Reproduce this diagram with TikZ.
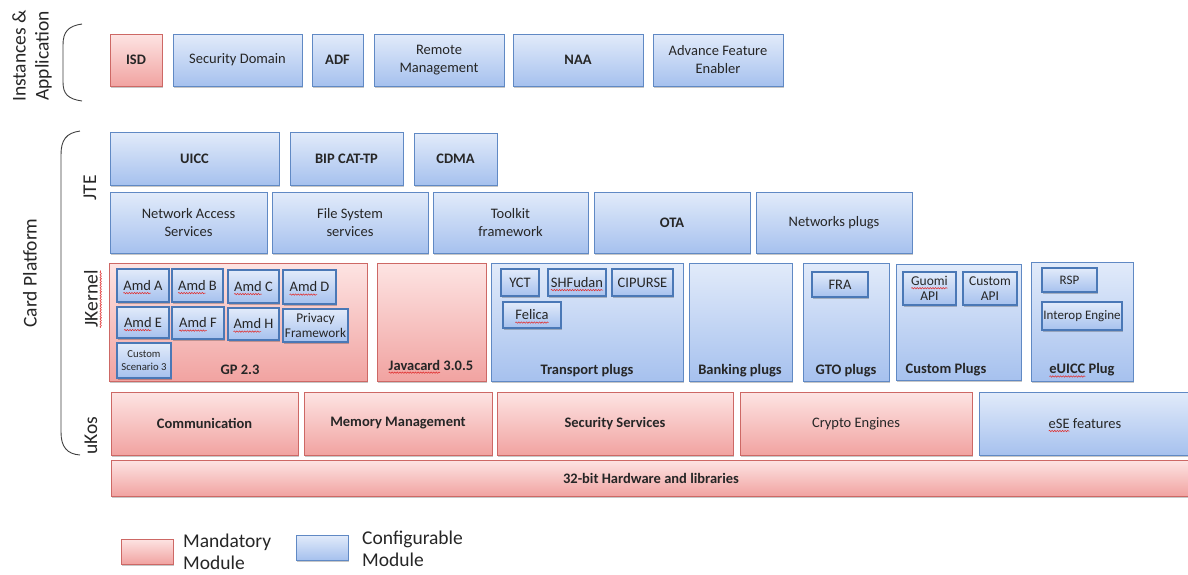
\documentclass[tikz,border=0pt]{standalone}
\usepackage{fontspec}
\setmainfont{Carlito}
\usetikzlibrary{shadows,decorations.pathmorphing}
\definecolor{redtop}{HTML}{FDE4E3}
\definecolor{redbot}{HTML}{F1A3A1}
\definecolor{redline}{HTML}{CD6865}
\definecolor{bluetop}{HTML}{E2EBFA}
\definecolor{bluebot}{HTML}{A6C1EE}
\definecolor{blueline}{HTML}{6089C4}
\definecolor{innerline}{HTML}{4A78B6}
\definecolor{txt}{HTML}{262626}
\definecolor{brk}{HTML}{404040}
\definecolor{squig}{HTML}{E03030}
\newcommand{\fr}{\fontsize{14.5}{18}\selectfont}
\newcommand{\fb}{\fontsize{14.5}{18}\selectfont\bfseries}
\newlength\wAmd \newlength\wA \newlength\wB \newlength\wC \newlength\wD
\newlength\wE \newlength\wF \newlength\wH
\newlength\wJav \newlength\wJavF \newlength\wEu \newlength\wEuF
\newlength\wShf \newlength\wFel \newlength\wEse \newlength\wEseF
\newcommand{\sqd}[3]{\draw[sqline] ([xshift=-0.5#2, yshift=-2.6pt]#1.base) -- ([xshift=-0.5#2+#3, yshift=-2.6pt]#1.base);}
\newcommand{\bx}[7]{\node[#6, minimum width={(#4-#2)*1pt}, minimum height={(#5-#3)*1pt}] (#1) at ({(#2+#4)/2},{(#3+#5)/2}) {#7};}
\tikzset{
  base/.style={draw, rectangle, inner sep=0pt, outer sep=0pt, line width=0.8pt, align=center, text=txt,
    font=\fr,
    drop shadow={shadow xshift=1.2pt, shadow yshift=-1.6pt, fill=black, opacity=0.22}},
  redbox/.style={base, draw=redline, top color=redtop, bottom color=redbot},
  bluebox/.style={base, draw=blueline, top color=bluetop, bottom color=bluebot},
  innerbox/.style={bluebox, draw=innerline, line width=1.5pt},
  bf/.style={font=\fb},
  lbl/.style={text=txt, inner sep=0pt, font=\fb},
  side/.style={text=txt, inner sep=0pt, rotate=90, font=\fontsize{19.5}{23}\selectfont},
  legtxt/.style={text=txt, inner sep=0pt, anchor=west, align=left, font=\fontsize{19.5}{22}\selectfont},
  bracket/.style={draw=brk, line width=0.9pt},
  sqline/.style={draw=squig, line width=0.55pt, decorate, decoration={snake, amplitude=0.7pt, segment length=2.6pt}}
}
\begin{document}
\settowidth{\wAmd}{\fr Amd}\settowidth{\wA}{\fr Amd A}\settowidth{\wB}{\fr Amd B}%
\settowidth{\wC}{\fr Amd C}\settowidth{\wD}{\fr Amd D}\settowidth{\wE}{\fr Amd E}%
\settowidth{\wF}{\fr Amd F}\settowidth{\wH}{\fr Amd H}%
\settowidth{\wJav}{\fb Javacard}\settowidth{\wJavF}{\fb Javacard 3.0.5}%
\settowidth{\wEu}{\fb eUICC}\settowidth{\wEuF}{\fb eUICC Plug}%
\settowidth{\wShf}{\fr SHFudan}\settowidth{\wFel}{\fr Felica}%
\settowidth{\wEse}{\fr eSE}\settowidth{\wEseF}{\fr eSE features}%
\begin{tikzpicture}[x=1pt,y=-1pt]
\useasboundingbox[fill=white] (0,0) rectangle (1188,574);

% side labels and brackets
\node[side, align=center] (inst) at (32,56) {Instances \&\\Application};
\node[side] (cplat) at (30,273) {Card Platform};
\node[side] (jte) at (90,188) {JTE};
\node[side] (jker) at (91,299) {JKernel};
\node[side] (ukos) at (91,436) {uKos};
\draw[bracket] (82,24) .. controls (68,26) and (63,32) .. (63,45) -- (63,82) .. controls (63,94) and (68,99) .. (82,101);
\draw[bracket] (80,131) .. controls (66,133) and (61,140) .. (61,155) -- (61,432) .. controls (61,447) and (67,454) .. (80,455);

% Instances & Application
\bx{isd}{110}{34}{162}{86}{redbox,bf}{ISD}
\bx{sd}{173}{34}{302}{86}{bluebox}{Security Domain}
\bx{adf}{312}{34}{363}{86}{bluebox,bf}{ADF}
\bx{rm}{374}{34}{504}{86}{bluebox}{Remote\\Management}
\bx{naa}{513}{34}{643}{86}{bluebox,bf}{NAA}
\bx{afe}{653}{34}{783}{86}{bluebox}{Advance Feature\\Enabler}

% JTE
\bx{uicc}{110}{132}{279}{185}{bluebox,bf}{UICC}
\bx{bip}{290}{132}{403}{185}{bluebox,bf}{BIP CAT-TP}
\bx{cdma}{414}{133}{497}{185}{bluebox,bf}{CDMA}
\bx{nas}{110}{192}{267}{253}{bluebox}{Network Access\\Services}
\bx{fss}{272}{192}{428}{253}{bluebox}{File System\\services}
\bx{tf}{433}{192}{588}{253}{bluebox}{Toolkit\\framework}
\bx{ota}{594}{192}{750}{253}{bluebox,bf}{OTA}
\bx{np}{756}{192}{912}{253}{bluebox}{Networks plugs}

% JKernel containers
\bx{gp}{109}{263}{367}{381}{redbox}{}
\bx{jc}{377}{263}{486}{381}{redbox}{}
\bx{tp}{491}{263}{683}{381}{bluebox}{}
\bx{bp}{689}{263}{792}{381}{bluebox}{}
\bx{gto}{803}{263}{889}{381}{bluebox}{}
\bx{cp}{896}{264}{1021}{380}{bluebox}{}
\bx{eu}{1031}{262}{1133}{381}{bluebox}{}

\node[lbl] (gpL) at (240,370) {GP 2.3};
\node[lbl] (jcL) at (431,365) {Javacard 3.0.5};
\node[lbl] (tpL) at (587,371) {Transport plugs};
\node[lbl] (bpL) at (740,371) {Banking plugs};
\node[lbl] (gtoL) at (846,371) {GTO plugs};
\node[lbl] (cpL) at (946,370) {Custom Plugs};
\node[lbl] (euL) at (1082,370) {eUICC Plug};

% GP inner
\bx{amdA}{117}{269}{169}{302}{innerbox}{Amd A}
\bx{amdB}{172}{269}{223}{302}{innerbox}{Amd B}
\bx{amdC}{228}{270}{279}{303}{innerbox}{Amd C}
\bx{amdD}{283}{270}{336}{304}{innerbox}{Amd D}
\bx{amdE}{117}{307}{169}{338}{innerbox}{Amd E}
\bx{amdF}{172}{307}{224}{339}{innerbox}{Amd F}
\bx{amdH}{228}{308}{279}{340}{innerbox}{Amd H}
\bx{pf}{283}{309}{348}{342}{innerbox,font=\fontsize{13.3}{15.5}\selectfont}{Privacy\\Framework}
\bx{cs3}{117}{343}{171}{378}{innerbox,font=\fontsize{10.7}{12.5}\selectfont}{Custom\\Scenario 3}

% Transport inner
\bx{yct}{501}{269}{539}{296}{innerbox}{YCT}
\bx{shf}{548}{269}{606}{296}{innerbox}{SHFudan}
\bx{cip}{612}{269}{673}{296}{innerbox}{CIPURSE}
\bx{fel}{503}{302}{561}{328}{innerbox}{Felica}
% GTO inner
\bx{fra}{812}{272}{868}{297}{innerbox}{FRA}
% Custom inner
\bx{guomi}{903}{272}{956}{305}{innerbox,font=\fontsize{13.5}{15.5}\selectfont}{Guomi\\API}
\bx{capi}{963}{272}{1017}{305}{innerbox,font=\fontsize{13.5}{15.5}\selectfont}{Custom\\API}
% eUICC inner
\bx{rsp}{1042}{268}{1097}{292}{innerbox,font=\fontsize{13}{15}\selectfont}{RSP}
\bx{ie}{1042}{302}{1122}{330}{innerbox,font=\fontsize{13}{15}\selectfont}{Interop Engine}

% uKos
\bx{comm}{111}{392}{298}{455}{redbox,bf}{Communication}
\bx{mm}{304}{392}{492}{455}{redbox,bf}{Memory Management}
\bx{ss}{497}{392}{733}{455}{redbox,bf}{Security Services}
\bx{ce}{740}{392}{972}{455}{redbox}{Crypto Engines}
\bx{ese}{979}{392}{1191}{455}{bluebox}{eSE features}
\bx{hw}{111}{460}{1191}{496}{redbox,bf}{32-bit Hardware and libraries}

% legend
\bx{lred}{121}{539}{173}{564}{redbox}{}
\node[legtxt] (lredT) at (183,552) {Mandatory\\Module};
\bx{lblue}{296}{535}{348}{560}{bluebox}{}
\node[legtxt] (lblueT) at (362,549) {Configurable\\Module};

% spell-check squiggles
\draw[sqline] ([xshift=3pt]jker.base west) -- ([xshift=3pt]jker.base east);
\draw[sqline] ([xshift=-18.2pt,yshift=0.3pt]guomi.center) -- ++(36.4pt,0pt);
\sqd{amdA}{\wA}{\wAmd}
\sqd{amdB}{\wB}{\wAmd}
\sqd{amdC}{\wC}{\wAmd}
\sqd{amdD}{\wD}{\wAmd}
\sqd{amdE}{\wE}{\wAmd}
\sqd{amdF}{\wF}{\wAmd}
\sqd{amdH}{\wH}{\wAmd}
\sqd{jcL}{\wJavF}{\wJav}
\sqd{euL}{\wEuF}{\wEu}
\sqd{shf}{\wShf}{\wShf}
\sqd{fel}{\wFel}{\wFel}
\sqd{ese}{\wEseF}{\wEse}
\end{tikzpicture}
\end{document}
